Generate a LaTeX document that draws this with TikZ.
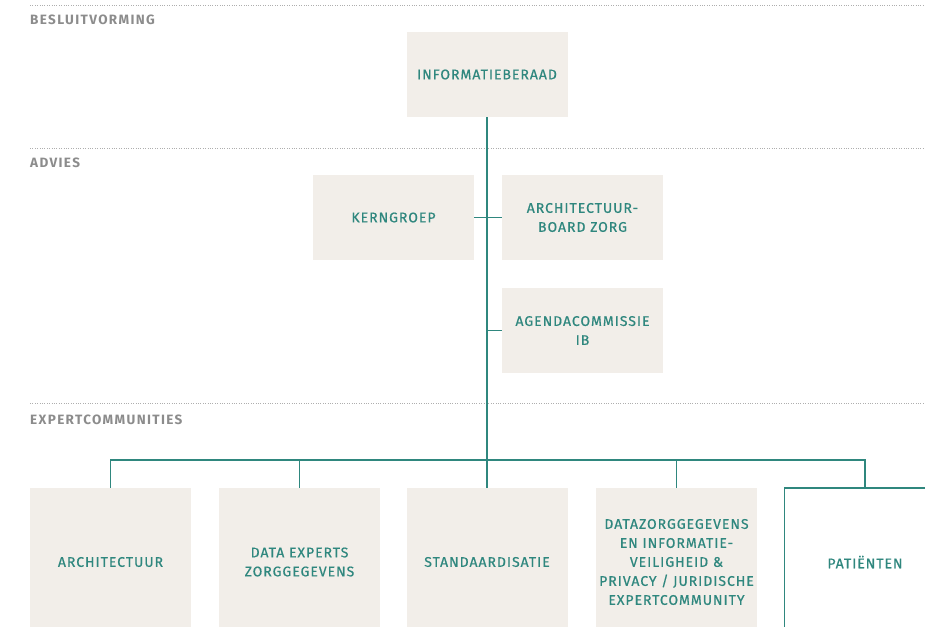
\documentclass[tikz,border=0pt]{standalone}
\usepackage{fontspec}
\setmainfont{Fira Sans}
\newfontfamily\boxfont{Fira Sans}[LetterSpace=7, FakeBold=0.6]
\newfontfamily\headfont{Fira Sans}[LetterSpace=10]
\usetikzlibrary{positioning, calc}
\definecolor{boxfill}{HTML}{F2EEE9}
\definecolor{myteal}{HTML}{2F877E}
\definecolor{mygray}{HTML}{8C8C8C}
\tikzset{
   mybox/.style={fill=boxfill, text=myteal, minimum width=161, minimum height=85, inner sep=0pt, align=center, font=\boxfont\fontsize{14}{19}\selectfont},
   mytall/.style={mybox, minimum height=148},
   myopen/.style={mytall, fill=white, draw=myteal, line width=1.2pt},
   myhead/.style={anchor=base west, inner sep=0pt, text=mygray, font=\headfont\bfseries\fontsize{13.5}{15}\selectfont},
   mysep/.style={mygray!70, line width=0.8pt, dash pattern=on 0.8pt off 1.6pt},
   myline/.style={draw=myteal, line width=1.2pt}
}
\begin{document}
\begin{tikzpicture}[x=1pt,y=-1pt]
   \useasboundingbox (0,0) rectangle (925,626);
   \clip (0,0) rectangle (925,626);
   % levels
   \draw[mysep] (30,5) -- (925,5);
   \draw[mysep] (30,148) -- (925,148);
   \draw[mysep] (30,403) -- (925,403);
   \node[myhead] (besluit) at (30,25) {BESLUITVORMING};
   \node[myhead] (advies) at (30,167) {ADVIES};
   \node[myhead] (expert) at (30,424) {EXPERTCOMMUNITIES};
   % boxes
   \node[mybox] (info) at (487,74.5) {INFORMATIEBERAAD};
   \node[mybox] (kern) at (393.5,217.5) {KERNGROEP};
   \node[mybox] (board) at (582.5,217.5) {ARCHITECTUUR-\\BOARD ZORG};
   \node[mybox] (agenda) at (582.5,330.5) {AGENDACOMMISSIE\\IB};
   \node[mytall] (archi) at (110.5,562) {ARCHITECTUUR};
   \node[mytall] (data) at (299.5,562) {DATA EXPERTS\\ZORGGEGEVENS};
   \node[mytall] (stand) at (487,562) {STANDAARDISATIE};
   \node[mytall] (veilig) at (676.5,562) {DATAZORGGEGEVENS\\EN INFORMATIE-\\VEILIGHEID \&\\PRIVACY / JURIDISCHE\\EXPERTCOMMUNITY};
   \node[myopen] (patient) at (865,562) {PATIËNTEN};
   % connectors
   \coordinate (bar) at (487,460);
   \draw[myline] (info.south) -- (stand.north);
   \draw[myline] (kern.east) -- (board.west);
   \draw[myline] (info.south |- agenda.west) -- (agenda.west);
   \draw[myline] (archi.north) |- (bar) -| (patient.north);
   \foreach \n in {data, veilig}
      \draw[myline] (\n.north) -- (\n.north |- bar);
\end{tikzpicture}
\end{document}
